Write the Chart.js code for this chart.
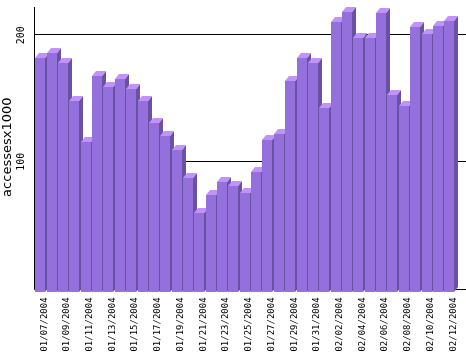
<!DOCTYPE html>
<html><head><meta charset="utf-8">
<script src="https://cdn.jsdelivr.net/npm/chart.js@4.4.0/dist/chart.umd.min.js"></script>
<style>html,body{margin:0;padding:0;background:#fff;overflow:hidden}#wrap{width:466px;height:360px;position:relative}</style>
</head><body><div id="wrap"><canvas id="c" width="466" height="360"></canvas></div>
<script>
const categories = ['01/07/2004','01/08/2004','01/09/2004','01/10/2004','01/11/2004','01/12/2004','01/13/2004','01/14/2004','01/15/2004','01/16/2004','01/17/2004','01/18/2004','01/19/2004','01/20/2004','01/21/2004','01/22/2004','01/23/2004','01/24/2004','01/25/2004','01/26/2004','01/27/2004','01/28/2004','01/29/2004','01/30/2004','01/31/2004','02/01/2004','02/02/2004','02/03/2004','02/04/2004','02/05/2004','02/06/2004','02/07/2004','02/08/2004','02/09/2004','02/10/2004','02/11/2004','02/12/2004'];
const accesses = [185.2,188.9,181.3,151.3,118.7,170.8,162.1,168.7,160.5,151.3,133.7,123.4,112.4,90.3,62.9,77.1,87.1,84.0,78.7,95.3,120.5,125.0,167.1,185.2,181.3,145.8,213.7,221.5,201.0,201.0,220.8,156.0,147.4,209.7,204.2,210.5,214.4];
const yTicks = [100, 200];
const yTitle = 'accessesx1000';

const DX = 4, DY = 5, FRONT_W = 10, FRONT_SHIFT = 9;
const COL_FRONT = '#9370db', COL_TOP = '#c192f9', COL_SIDE = '#6a52a3';
const TICK_FONT = '10px "DejaVu Sans Mono"';

const bar3d = {
  id: 'bar3d',
  beforeDatasetsDraw(chart) {
    const {ctx, chartArea, scales: {y}} = chart;
    ctx.save();
    ctx.strokeStyle = '#000';
    ctx.lineWidth = 1;
    const axisX = Math.round(chartArea.left - 4.6) + 0.5;
    const axisY = Math.round(y.getPixelForValue(0) + 1.6) + 0.5;
    ctx.beginPath();
    yTicks.forEach(v => {
      const py = Math.round(y.getPixelForValue(v)) + 0.5;
      ctx.moveTo(axisX, py); ctx.lineTo(chart.width, py);
    });
    ctx.moveTo(axisX, Math.round(chartArea.top)); ctx.lineTo(axisX, axisY);
    ctx.moveTo(axisX, axisY); ctx.lineTo(chart.width, axisY);
    ctx.stroke();
    // y tick labels, rotated
    ctx.fillStyle = '#000';
    ctx.font = TICK_FONT;
    ctx.textAlign = 'center';
    ctx.textBaseline = 'middle';
    yTicks.forEach(v => {
      const py = y.getPixelForValue(v);
      ctx.save();
      ctx.translate(axisX - 13, py + 1);
      ctx.rotate(-Math.PI / 2);
      ctx.fillText(String(v), 0, 0);
      ctx.restore();
    });
    ctx.restore();
  },
  afterDatasetsDraw(chart) {
    const {ctx} = chart;
    const meta = chart.getDatasetMeta(0);
    ctx.save();
    meta.data.forEach(el => {
      const fl = Math.round(el.x - FRONT_SHIFT), fr = fl + FRONT_W;
      const ft = Math.round(el.y + DY), fb = Math.round(el.base + DY);
      ctx.fillStyle = COL_SIDE;
      ctx.beginPath();
      ctx.moveTo(fr, ft); ctx.lineTo(fr + DX, ft - DY); ctx.lineTo(fr + DX, fb - DY); ctx.lineTo(fr, fb); ctx.closePath();
      ctx.fill();
      ctx.fillStyle = COL_TOP;
      ctx.beginPath();
      ctx.moveTo(fl, ft); ctx.lineTo(fl + DX, ft - DY); ctx.lineTo(fr + DX, ft - DY); ctx.lineTo(fr, ft); ctx.closePath();
      ctx.fill();
      ctx.fillStyle = COL_FRONT;
      ctx.fillRect(fl, ft, FRONT_W, fb - ft);
    });
    ctx.restore();
  }
};

new Chart(document.getElementById('c'), {
  type: 'bar',
  data: {
    labels: categories,
    datasets: [{ data: accesses, backgroundColor: 'rgba(0,0,0,0)', borderWidth: 0, categoryPercentage: 1, barPercentage: 1 }]
  },
  options: {
    responsive: false, animation: false, devicePixelRatio: 1,
    layout: { padding: { top: 7, right: 7.1, left: 0, bottom: 0 } },
    plugins: { legend: { display: false }, tooltip: { enabled: false } },
    scales: {
      x: {
        grid: { display: false, drawTicks: false }, border: { display: false },
        ticks: { autoSkip: false, minRotation: 90, maxRotation: 90, padding: 10, color: '#000',
          font: { family: 'DejaVu Sans Mono', size: 9 },
          callback: (v, i) => (i % 2 === 0 ? categories[i] : '') },
        afterFit: s => { s.height = 72.6; s.paddingLeft = 0; s.paddingRight = 0; s.paddingTop = 0; s.paddingBottom = 0; }
      },
      y: {
        min: 0, max: Math.max(...accesses),
        grid: { display: false, drawTicks: false }, border: { display: false },
        ticks: { display: false, stepSize: 100 },
        title: { display: true, text: yTitle, color: '#000', padding: 0, font: { family: 'DejaVu Sans', size: 13 } },
        afterFit: s => { s.width = 38.6; s.paddingLeft = 0; s.paddingRight = 0; s.paddingTop = 0; s.paddingBottom = 0; }
      }
    }
  },
  plugins: [bar3d]
});
</script>
</body></html>
